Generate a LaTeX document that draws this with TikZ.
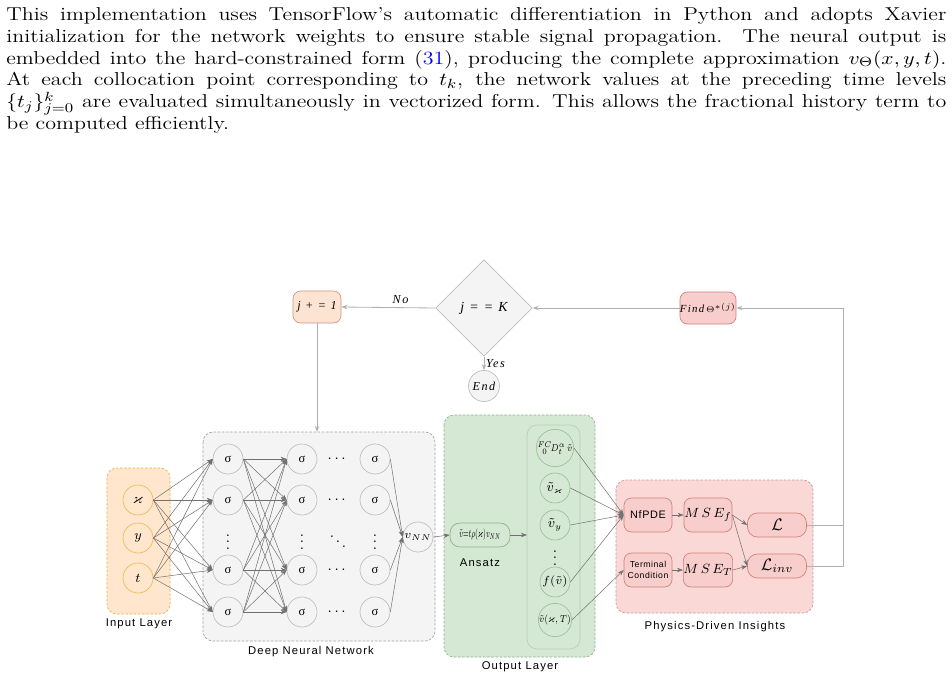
\documentclass[tikz,border=0pt]{standalone}
\usepackage{fontspec}
\usepackage{amsmath,amssymb}
\usepackage{graphicx}
\usetikzlibrary{shapes.geometric,arrows.meta}
\newfontfamily\lblfont[LetterSpace=10]{Liberation Sans}
\newfontfamily\boxsans[LetterSpace=6]{Liberation Sans}
\newfontfamily\flowfont[LetterSpace=12]{Liberation Serif}
\newfontfamily\sigfont{Liberation Serif}
\definecolor{inFill}{HTML}{FFE6CC}
\definecolor{inDraw}{HTML}{E8B04E}
\definecolor{inCirc}{HTML}{E9BC55}
\definecolor{jFill}{HTML}{FDE4D2}
\definecolor{jDraw}{HTML}{D4907E}
\definecolor{rFill}{HTML}{F8CECC}
\definecolor{rDraw}{HTML}{D37F7A}
\definecolor{phFill}{HTML}{F9D8D5}
\definecolor{phDraw}{HTML}{C99A97}
\definecolor{gFill}{HTML}{D5E8D4}
\definecolor{gDraw}{HTML}{8FB08A}
\definecolor{gInner}{HTML}{B7CFB3}
\definecolor{gCirc}{HTML}{9DBF98}
\definecolor{dFill}{HTML}{F4F4F4}
\definecolor{dDraw}{HTML}{A0A0A0}
\definecolor{cDraw}{HTML}{BDBDBD}
\definecolor{flowLine}{HTML}{B0B0B0}
\definecolor{nnLine}{HTML}{707070}
\newcommand{\pline}[1]{\makebox[478pt][s]{#1}}
\tikzset{
  tip/.style={-{Stealth[length=3.6pt,width=2.6pt]}},
  nnc/.style={circle,draw=cDraw,fill=dFill,minimum size=18pt,inner sep=0pt,line width=0.4pt,font=\fontsize{7.5}{8}\sigfont},
  inc/.style={circle,draw=inCirc,fill=inFill,minimum size=18pt,inner sep=0pt,line width=0.4pt,font=\fontsize{8.5}{9}\selectfont},
  outc/.style={circle,draw=gCirc,fill=gFill,minimum size=18pt,inner sep=0pt,line width=0.4pt,font=\fontsize{6}{7}\selectfont},
  jbox/.style={rectangle,rounded corners=4.5pt,draw=jDraw,fill=jFill,minimum width=28.8pt,minimum height=19.2pt,inner sep=0pt,line width=0.4pt},
  rbox/.style={rectangle,rounded corners=4.5pt,draw=rDraw,fill=rFill,minimum width=28.8pt,minimum height=20.4pt,inner sep=0pt,line width=0.4pt},
  lbox/.style={rectangle,rounded corners=6pt,draw=rDraw,fill=rFill,minimum width=35.4pt,minimum height=14.4pt,inner sep=0pt,line width=0.4pt},
  grp/.style={rounded corners=6pt,dashed,dash pattern=on 1.5pt off 1pt,line width=0.4pt},
  lbl/.style={font=\fontsize{6.75}{7.5}\lblfont,inner sep=0pt},
  flowtxt/.style={font=\fontsize{7.3}{8}\flowfont\itshape},
  fl/.style={draw=flowLine,line width=0.5pt},
  nl/.style={draw=nnLine,line width=0.3pt},
  dotsty/.style={font=\fontsize{9}{10}\selectfont,inner sep=0pt},
}
\begin{document}
\begin{tikzpicture}[x=0.6pt,y=-0.6pt]
\useasboundingbox (0,0) rectangle (952,680);
% paragraph
\node[anchor=north west,inner sep=0pt] (para) at (6,7) {\scalebox{1.18}[1]{\parbox[t]{478pt}{\fontsize{11.2}{13.1}\selectfont
\pline{This implementation uses TensorFlow's automatic differentiation in Python and adopts Xavier}\\
\pline{initialization for the network weights to ensure stable signal propagation.\ \ The neural output is}\\
\pline{embedded into the hard-constrained form (\textcolor{blue}{31}), producing the complete approximation $v_\Theta(x,y,t)$.}\\
\pline{At each collocation point corresponding to $t_k$, the network values at the preceding time levels}\\
\pline{$\{t_j\}_{j=0}^k$ are evaluated simultaneously in vectorized form. This allows the fractional history term to}\\
be computed efficiently.}}};

% group boxes
\draw[grp,draw=inDraw,fill=inFill] (107,468) rectangle (170,614);
\draw[grp,draw=dDraw,fill=dFill] (203,432) rectangle (435,641);
\draw[grp,draw=gDraw,fill=gFill] (444,415) rectangle (595,657);
\draw[rounded corners=6pt,draw=gInner,fill=gFill,line width=0.4pt] (527,425) rectangle (580,649);
\draw[grp,draw=phDraw,fill=phFill] (616,480) rectangle (813,613);

\node[lbl] (linput) at (139,624) {Input Layer};
\node[lbl] (ldnn) at (311,652) {Deep Neural Network};
\node[lbl] (lout) at (520,667) {Output Layer};
\node[lbl] (lphys) at (715,627) {Physics-Driven Insights};

% flowchart
\node[diamond,aspect=1,draw=cDraw,fill=dFill,minimum width=58pt,minimum height=58pt,inner sep=0pt,line width=0.4pt,font=\fontsize{8.3}{9}\flowfont\itshape] (dec) at (484,308) {j = = K};
\node[jbox,flowtxt] (jinc) at (317,307) {j + = 1};
\node[rbox,minimum height=19.2pt,font=\fontsize{6.5}{7}\flowfont\itshape] (find) at (708,308) {Find\,$\scriptstyle\Theta^{*(j)}$};
\node[circle,draw=cDraw,fill=dFill,minimum size=18.6pt,inner sep=0pt,line width=0.4pt,flowtxt] (end) at (484,386) {End};

\draw[fl,tip] (dec.west) -- node[pos=0.37,above,flowtxt,inner sep=2pt]{No} (jinc.east);
\draw[fl,tip] (dec.south) -- node[right,flowtxt,inner sep=1pt]{Yes} (end.north);
\draw[fl,tip] (find.west) -- (dec.east);
\coordinate (dnntop) at (317,432);
\draw[fl,tip] (jinc.south) -- (dnntop);

% input nodes
\node[inc] (i1) at (138,500) {$\varkappa$};
\node[inc] (i2) at (138,538) {$y$};
\node[inc] (i3) at (138,578) {$t$};

% hidden nodes
\foreach \c/\x in {a/228,b/302,c/375}{
  \node[nnc] (\c1) at (\x,459) {σ};
  \node[nnc] (\c2) at (\x,500) {σ};
  \node[nnc] (\c3) at (\x,570) {σ};
  \node[nnc] (\c4) at (\x,612) {σ};
  \node[dotsty] (\c d) at (\x,537) {$\vdots$};
}
\foreach \y/\n in {459/1,500/2,570/3,612/4}{
  \node[dotsty] (h\n) at (338,\y) {$\cdots$};
}
\node[dotsty] (hd) at (338,537) {$\ddots$};
\node[nnc,font=\fontsize{7}{8}\selectfont] (vnn) at (418,537) {$v_{NN}$};

\foreach \i in {1,2,3}{\foreach \j in {1,2,3,4}{\draw[nl,tip] (i\i.east) -- (a\j.west);}}
\foreach \i in {1,2,3,4}{\foreach \j in {1,2,3,4}{\draw[nl,tip] (a\i.east) -- (b\j.west);}}
\foreach \i in {1,2,3,4}{\draw[nl,tip] (c\i.east) -- (vnn.west);}

% output layer
\node[rectangle,rounded corners=6pt,draw=gDraw,fill=gFill,minimum width=36pt,minimum height=14.4pt,inner sep=0pt,line width=0.4pt,font=\fontsize{7.2}{8}\selectfont] (ans) at (480,535) {\scalebox{0.54}[1]{$\tilde v{=}t\rho(\varkappa)v_{NN}$}};
\node[lbl] (lans) at (480,563) {Ansatz};
\coordinate (inner) at (527,535);
\draw[nl,tip] (vnn.east) -- (ans.west);
\draw[nl,tip] (ans.east) -- (inner);

\node[outc] (o1) at (555,448) {\scalebox{0.8}[1]{${}^{FC}_{\ \,0}\!D^{\alpha}_{t}\,\tilde v$}};
\node[outc,font=\fontsize{7.6}{8}\selectfont] (o2) at (555,488) {$\tilde v_{\varkappa}$};
\node[outc,font=\fontsize{7.6}{8}\selectfont] (o3) at (555,525) {$\tilde v_{y}$};
\node[dotsty] (od) at (555,553) {$\vdots$};
\node[outc,font=\fontsize{7.4}{8}\selectfont] (o4) at (555,582) {$f(\tilde v)$};
\node[outc,font=\fontsize{6.4}{7}\selectfont] (o5) at (555,620) {\scalebox{0.8}[1]{$\tilde v(\varkappa,T)$}};

% physics
\node[rbox,font=\fontsize{6.5}{7}\boxsans] (nf) at (648,515) {NfPDE};
\node[rbox,font=\fontsize{5.2}{6.4}\boxsans,align=center] (tc) at (648,570) {Terminal\\Condition};
\node[rbox,font=\fontsize{8}{9}\selectfont] (msef) at (708,515) {$M\,S\,E_f$};
\node[rbox,font=\fontsize{8}{9}\selectfont] (mset) at (708,570) {$M\,S\,E_T$};
\node[lbox,font=\fontsize{10}{11}\selectfont] (L) at (777,525) {$\mathcal{L}$};
\node[lbox,font=\fontsize{10}{11}\selectfont] (Linv) at (777,566) {$\mathcal{L}_{inv}$};

\foreach \o in {o1,o2,o3,o4}{\draw[nl,tip] (\o.east) -- (nf.west);}
\draw[nl,tip] (o5.east) -- (tc.west);
\draw[nl,tip] (nf.east) -- (msef.west);
\draw[nl,tip] (tc.east) -- (mset.west);
\draw[nl,tip] (msef.east) -- (L.west);
\draw[nl,tip] (msef.east) -- (Linv.west);
\draw[nl,tip] (mset.east) -- (Linv.west);

\coordinate (rL) at (843,525);
\coordinate (rLi) at (843,566);
\coordinate (rTop) at (843,308);
\draw[fl] (Linv.east) -- (rLi) -- (rL);
\draw[fl,tip] (L.east) -- (rL) -- (rTop) -- (find.east);
\end{tikzpicture}
\end{document}
